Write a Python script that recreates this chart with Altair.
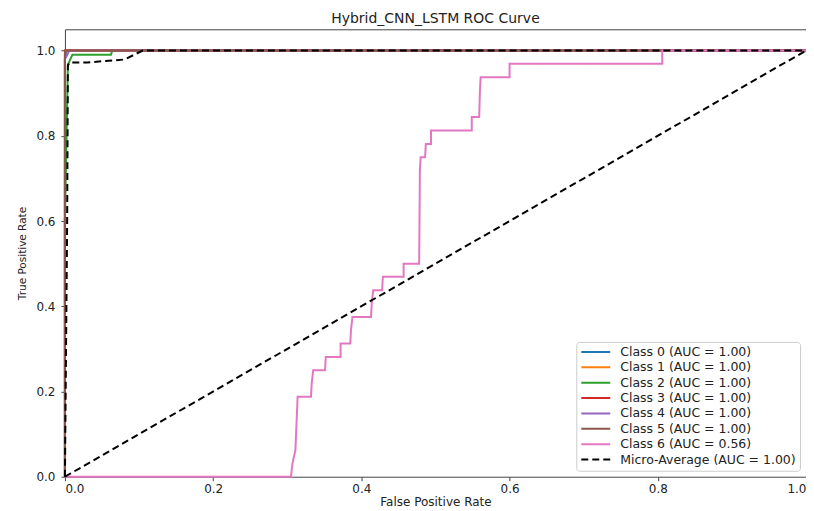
import altair as alt
import pandas as pd

# ---- data ----
series_names = [
    "Class 0 (AUC = 1.00)",
    "Class 1 (AUC = 1.00)",
    "Class 2 (AUC = 1.00)",
    "Class 3 (AUC = 1.00)",
    "Class 4 (AUC = 1.00)",
    "Class 5 (AUC = 1.00)",
    "Class 6 (AUC = 0.56)",
    "Micro-Average (AUC = 1.00)",
]
series_colors = ["#1f77b4", "#ff7f0e", "#2ca02c", "#d62728",
                 "#9467bd", "#8c564b", "#e377c2", "#000000"]

class0_fpr = [0.0, 0.0, 0.002, 1.0]
class0_tpr = [0.0, 0.98, 1.0, 1.0]
class1_fpr = [0.0, 0.0, 0.001, 1.0]
class1_tpr = [0.0, 0.99, 1.0, 1.0]
class2_fpr = [0.0, 0.0, 0.004, 0.01, 0.062, 0.064, 1.0]
class2_tpr = [0.0, 0.6, 0.967, 0.99, 0.99, 1.0, 1.0]
class3_fpr = [0.0, 0.0, 1.0]
class3_tpr = [0.0, 1.0, 1.0]
class4_fpr = [0.0, 0.0, 0.006, 1.0]
class4_tpr = [0.0, 0.98, 1.0, 1.0]
class5_fpr = [0.0, 0.0, 1.0]
class5_tpr = [0.0, 1.0, 1.0]
class6_fpr = [0.0, 0.305, 0.307, 0.311, 0.314, 0.332, 0.333, 0.335, 0.351, 0.352,
              0.372, 0.372, 0.385, 0.386, 0.388, 0.413, 0.414, 0.416, 0.428, 0.429,
              0.457, 0.457, 0.478, 0.479, 0.48, 0.486, 0.487, 0.494, 0.494, 0.549,
              0.549, 0.559, 0.56, 0.561, 0.6, 0.6, 0.806, 0.806, 1.0]
class6_tpr = [0.0, 0.0, 0.031, 0.0625, 0.1875, 0.1875, 0.219, 0.25, 0.25, 0.281,
              0.281, 0.3125, 0.3125, 0.344, 0.375, 0.375, 0.406, 0.4375, 0.4375, 0.469,
              0.469, 0.5, 0.5, 0.72, 0.75, 0.75, 0.781, 0.781, 0.8125, 0.8125,
              0.844, 0.844, 0.906, 0.9375, 0.9375, 0.969, 0.969, 1.0, 1.0]
micro_fpr = [0.0, 0.003, 0.004, 0.006, 0.03, 0.05, 0.08, 0.105, 1.0]
micro_tpr = [0.0, 0.6, 0.965, 0.972, 0.972, 0.975, 0.979, 1.0, 1.0]

chance_fpr = [0.0, 1.0]
chance_tpr = [0.0, 1.0]

x_ticks = [0.0, 0.2, 0.4, 0.6, 0.8, 1.0]
y_ticks = [0.0, 0.2, 0.4, 0.6, 0.8, 1.0]

# ---- build table ----
all_fpr = [class0_fpr, class1_fpr, class2_fpr, class3_fpr,
           class4_fpr, class5_fpr, class6_fpr, micro_fpr]
all_tpr = [class0_tpr, class1_tpr, class2_tpr, class3_tpr,
           class4_tpr, class5_tpr, class6_tpr, micro_tpr]
rows = []
for name, fx, ty in zip(series_names, all_fpr, all_tpr):
    for i, (a, b) in enumerate(zip(fx, ty)):
        rows.append({"series": name, "fpr": a, "tpr": b, "order": i})
df = pd.DataFrame(rows)
chance_df = pd.DataFrame({"fpr": chance_fpr, "tpr": chance_tpr})

dash_range = [[1, 0]] * 7 + [[7, 4]]

x_enc = alt.X("fpr:Q", title="False Positive Rate",
              scale=alt.Scale(domain=[0, 1], nice=False),
              axis=alt.Axis(values=x_ticks, format=".1f", labelPadding=3,
                            titleFontSize=12, titleY=29,
                            titleBaseline="alphabetic"))
y_enc = alt.Y("tpr:Q", title="True Positive Rate",
              scale=alt.Scale(domain=[0, 1.05], nice=False),
              axis=alt.Axis(values=y_ticks, format=".1f", labelPadding=6,
                            titlePadding=8, titleFontSize=10.5))

curves = alt.Chart(df).mark_line(strokeWidth=2, interpolate="linear").encode(
    x=x_enc,
    y=y_enc,
    order="order:Q",
    color=alt.Color("series:N", title=None,
                    scale=alt.Scale(domain=series_names, range=series_colors),
                    legend=alt.Legend(orient="bottom-right", offset=6,
                                      symbolType="stroke", symbolSize=841,
                                      symbolStrokeWidth=2, labelFontSize=12.5,
                                      labelLimit=300, rowPadding=2.4,
                                      clipHeight=12,
                                      labelOffset=9,
                                      padding=4, strokeColor="#cccccc",
                                      fillColor="white", cornerRadius=3,
                                      labelColor="#222222",
                                      labelFont="DejaVu Sans")),
    strokeDash=alt.StrokeDash("series:N", title=None,
                              scale=alt.Scale(domain=series_names, range=dash_range)),
)

chance = alt.Chart(chance_df).mark_line(color="black", strokeWidth=2,
                                        strokeDash=[7, 4]).encode(
    x="fpr:Q", y="tpr:Q")

chart = alt.layer(curves, chance).properties(
    width=742, height=448,
    title=alt.TitleParams("Hybrid_CNN_LSTM ROC Curve", fontSize=14,
                          fontWeight="normal", font="DejaVu Sans",
                          color="#222222", offset=3),
    autosize=alt.AutoSizeParams(type="none"),
    padding={"left": 57, "top": 21, "right": 0, "bottom": 32},
).configure_view(
    stroke="#444444", strokeWidth=1
).configure_axis(
    grid=False, domain=False, tickColor="#444444", tickSize=4,
    labelFontSize=12, labelColor="#222222", labelFont="DejaVu Sans",
    titleFontWeight="normal", titleColor="#222222",
    titleFont="DejaVu Sans",
)

chart.save("out.html", embed_options={"renderer": "svg", "actions": False})
